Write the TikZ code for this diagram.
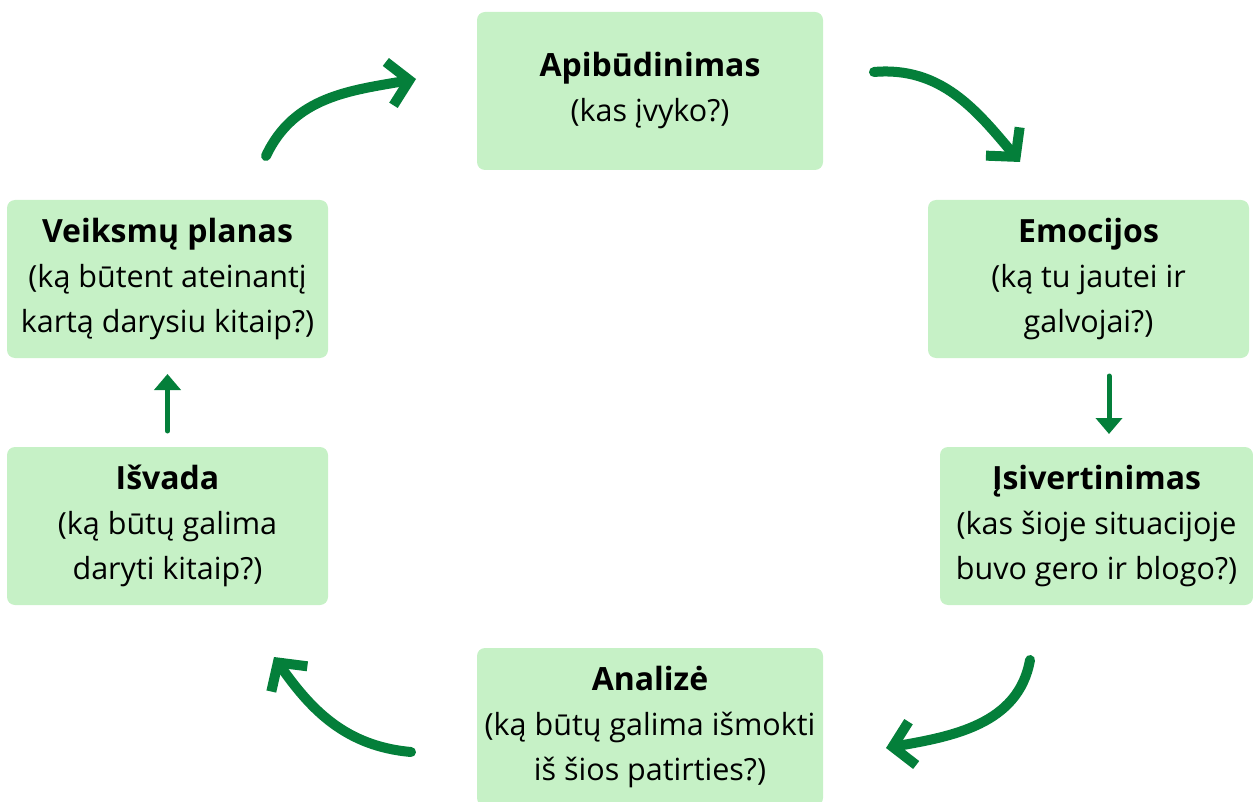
\documentclass[tikz,border=0pt]{standalone}
\usepackage{fontspec}
\setmainfont{Open Sans}
\usetikzlibrary{arrows.meta}
\definecolor{boxfill}{HTML}{C6F1C6}
\definecolor{arrgreen}{HTML}{047F3A}
\tikzset{
  stepbox/.style={fill=boxfill, rounded corners=8pt, align=center, inner sep=0pt,
    font=\fontsize{30.5}{45}\selectfont, text=black},
  curvearr/.style={draw=arrgreen, line width=10pt, line cap=round,
    -{Straight Barb[length=20pt,width=44pt,line width=10pt]}},
  straightarr/.style={draw=arrgreen, line width=5pt, line cap=round,
    -{Triangle[length=16pt,width=26pt]}}
}
\newcommand{\hd}[1]{{\fontsize{32}{45}\selectfont\bfseries #1}}
\begin{document}
\begin{tikzpicture}[x=1pt,y=-1pt]
\useasboundingbox (0,0) rectangle (1253,802);
\node[stepbox, minimum width=346pt, minimum height=158pt] (A) at (650,91)
  {\hd{Apibūdinimas}\\(kas įvyko?)};
\node[stepbox, minimum width=321pt, minimum height=158pt] (E) at (1088.5,279)
  {\hd{Emocijos}\\(ką tu jautei ir\\galvojai?)};
\node[stepbox, minimum width=313pt, minimum height=158pt] (I) at (1096.5,526)
  {\hd{Įsivertinimas}\\(kas šioje situacijoje\\buvo gero ir blogo?)};
\node[stepbox, minimum width=346pt, minimum height=158pt] (N) at (650,727)
  {\hd{Analizė}\\(ką būtų galima išmokti\\iš šios patirties?)};
\node[stepbox, minimum width=321pt, minimum height=158pt] (S) at (167.5,526)
  {\hd{Išvada}\\(ką būtų galima\\daryti kitaip?)};
\node[stepbox, minimum width=321pt, minimum height=158pt] (V) at (167.5,279)
  {\hd{Veiksmų planas}\\(ką būtent ateinantį\\kartą darysiu kitaip?)};
\coordinate (a1s) at (266,156);
\coordinate (a1e) at (416,79);
\coordinate (a2s) at (874,72);
\coordinate (a2e) at (1020,162);
\coordinate (a3s) at (1030,660);
\coordinate (a3e) at (886,748);
\coordinate (a4s) at (411,752);
\coordinate (a4e) at (274,657);
\draw[curvearr] (a1s) to[out=65,in=190] (a1e);
\draw[curvearr] (a2s) to[out=5,in=130] (a2e);
\draw[curvearr] (a3s) to[out=-100,in=10] (a3e);
\draw[curvearr] (a4s) to[out=175,in=-55] (a4e);
\coordinate (e1) at (1109,376);
\coordinate (e2) at (1109,434);
\coordinate (s1) at (167.5,431);
\coordinate (s2) at (167.5,374);
\draw[straightarr] (e1) -- (e2);
\draw[straightarr] (s1) -- (s2);
\end{tikzpicture}
\end{document}
